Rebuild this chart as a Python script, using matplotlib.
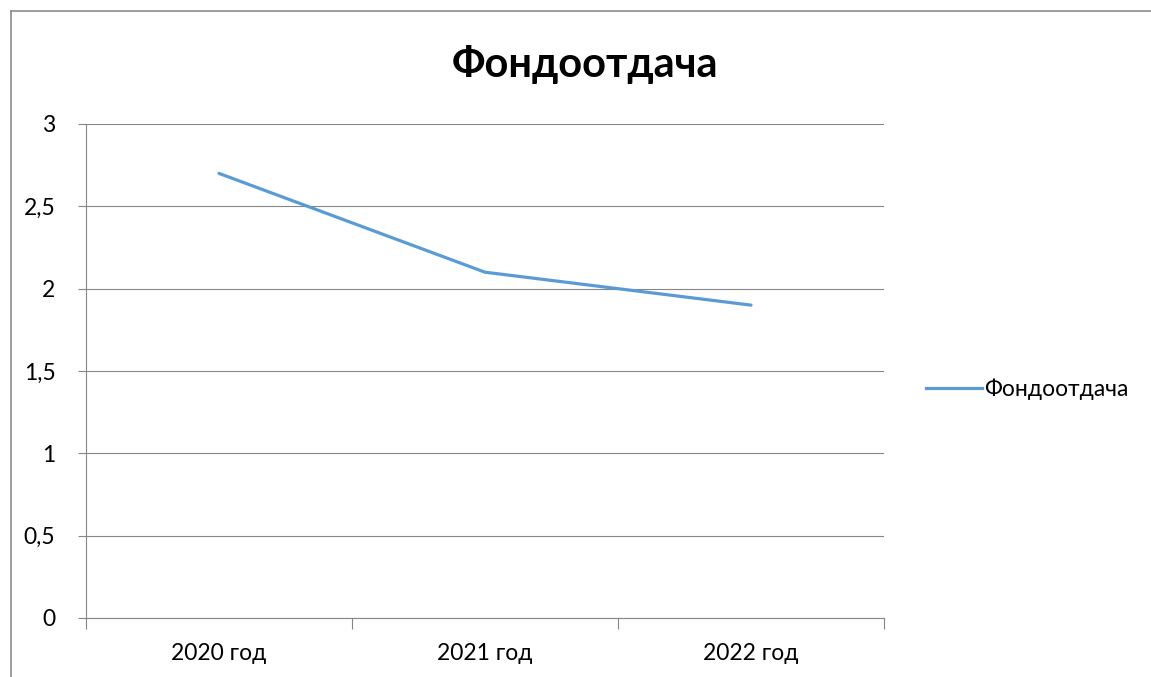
import matplotlib
matplotlib.use('Agg')
import matplotlib.pyplot as plt
from matplotlib.lines import Line2D

categories = ['2020 год', '2021 год', '2022 год']
values = [2.7, 2.1, 1.9]
series_name = 'Фондоотдача'
yticks = [0, 0.5, 1, 1.5, 2, 2.5, 3]

plt.rcParams['font.family'] = ['Lato', 'DejaVu Sans']

W, H = 1151, 677
fig = plt.figure(figsize=(W / 100, H / 100), dpi=100)
ax = fig.add_axes([86 / W, 1 - 618 / H, (884 - 86) / W, (618 - 124) / H])

x = list(range(len(categories)))
ax.plot(x, values, color='#5B9BD5', linewidth=2.3, solid_capstyle='round', label=series_name)

ax.set_xlim(-0.5, len(categories) - 0.5)
ax.set_ylim(0, 3)
ax.set_yticks(yticks)
ax.set_yticklabels([('%g' % v).replace('.', ',') for v in yticks])
ax.set_xticks(x)
ax.set_xticklabels(categories)
ax.set_xticks([i - 0.5 for i in range(len(categories) + 1)], minor=True)

grid_c = '#868686'
ax.grid(axis='y', color=grid_c, linewidth=0.8)
ax.set_axisbelow(True)
for s in ['top', 'right']:
    ax.spines[s].set_visible(False)
for s in ['left', 'bottom']:
    ax.spines[s].set_color(grid_c)
    ax.spines[s].set_linewidth(0.8)
ax.tick_params(axis='y', length=6, color=grid_c, width=0.8, labelsize=16.5, pad=16)
ax.tick_params(axis='x', which='major', length=0, labelsize=16.5, pad=18)
ax.tick_params(axis='x', which='minor', length=8, color=grid_c, width=0.8, direction='out')

fig.text(585 / W, 1 - 64 / H, 'Фондоотдача', ha='center', va='center',
         fontsize=30, fontweight='bold')

leg = fig.legend(handles=[Line2D([], [], color='#5B9BD5', linewidth=2.3)],
                 labels=[series_name], loc='center left',
                 bbox_to_anchor=(905 / W, 1 - 389 / H), frameon=False,
                 fontsize=16.5, handlelength=2.45, handletextpad=0.1)

# outer chart border (top and left)
fig.add_artist(Line2D([10.5 / W, 10.5 / W], [0, 1 - 10.5 / H], color='#8c8c8c', linewidth=1.2))
fig.add_artist(Line2D([10.5 / W, 1], [1 - 10.5 / H, 1 - 10.5 / H], color='#8c8c8c', linewidth=1.2))

fig.savefig('out.png', dpi=100)
